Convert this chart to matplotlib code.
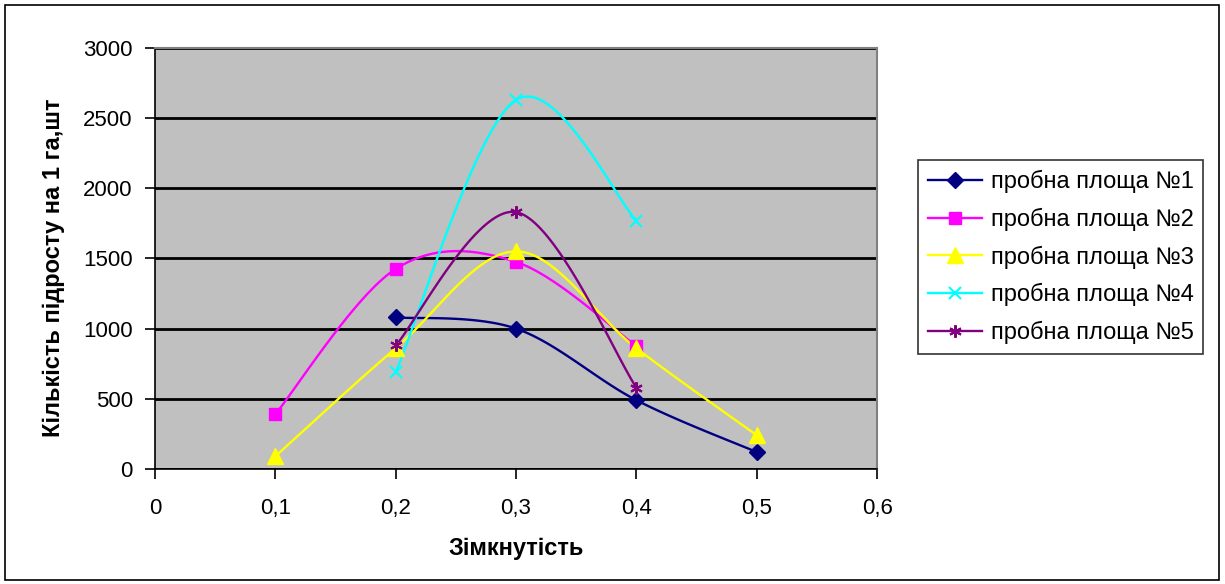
import numpy as np
import matplotlib
matplotlib.use("Agg")
import matplotlib.pyplot as plt
from matplotlib.patches import Rectangle
from matplotlib.ticker import FuncFormatter

plt.rcParams['font.family'] = ['Liberation Sans', 'DejaVu Sans']

series_names = ["пробна площа №1", "пробна площа №2", "пробна площа №3",
                "пробна площа №4", "пробна площа №5"]
x1 = [0.2, 0.3, 0.4, 0.5]
y1 = [1080, 1000, 490, 120]
x2 = [0.1, 0.2, 0.3, 0.4]
y2 = [390, 1425, 1475, 875]
x3 = [0.1, 0.2, 0.3, 0.4, 0.5]
y3 = [90, 860, 1550, 860, 240]
x4 = [0.2, 0.3, 0.4]
y4 = [690, 2630, 1770]
x5 = [0.2, 0.3, 0.4]
y5 = [880, 1830, 580]

colors = ["#000080", "#FF00FF", "#FFFF00", "#00FFFF", "#800080"]
markers = ["D", "s", "^", "x", (6, 2, 0)]
msizes = [8, 9, 11, 8, 9]

x_label = "Зімкнутість"
y_label = "Кількість підросту на 1 га,шт"


def excel_smooth(xs, ys, n=40):
    xs = np.asarray(xs, float)
    ys = np.asarray(ys, float)
    P = np.column_stack([xs, ys])
    m = len(P)
    out = [P[0]]
    for i in range(m - 1):
        p0 = P[i - 1] if i > 0 else P[i]
        p1 = P[i]
        p2 = P[i + 1]
        p3 = P[i + 2] if i + 2 < m else P[i + 1]
        c1 = p1 + (p2 - p0) / 6.0
        c2 = p2 - (p3 - p1) / 6.0
        t = np.linspace(0, 1, n)[1:, None]
        seg = ((1 - t) ** 3) * p1 + 3 * ((1 - t) ** 2) * t * c1 + 3 * (1 - t) * t ** 2 * c2 + t ** 3 * p2
        out.extend(seg)
    out = np.array(out)
    return out[:, 0], out[:, 1]


fig = plt.figure(figsize=(12.25, 5.84), dpi=100)
fig.patches.append(Rectangle((0.004, 0.007), 0.991, 0.985, transform=fig.transFigure,
                             fill=False, edgecolor="black", linewidth=1.2))
ax = fig.add_axes([0.1265, 0.197, 0.5895, 0.721])
ax.set_facecolor("#C0C0C0")

data = [(x1, y1), (x2, y2), (x3, y3), (x4, y4), (x5, y5)]
handles = []
for (xs, ys), c, mk, ms, name in zip(data, colors, markers, msizes, series_names):
    sx, sy = excel_smooth(xs, ys)
    ax.plot(sx, sy, color=c, linewidth=1.7, zorder=3)
    mew = 1.5 if mk in ("x",) or isinstance(mk, tuple) else 1
    ax.plot(xs, ys, linestyle="none", marker=mk, markersize=ms, color=c,
            markeredgecolor=c, markeredgewidth=mew, zorder=4)
    h, = ax.plot([], [], color=c, linewidth=1.7, marker=mk, markersize=ms,
                 markeredgecolor=c, markeredgewidth=mew, label=name)
    handles.append(h)

ax.set_xlim(0, 0.6)
ax.set_ylim(0, 3000)
ax.set_xticks(np.arange(0, 0.61, 0.1))
ax.set_yticks(np.arange(0, 3001, 500))
ax.xaxis.set_major_formatter(FuncFormatter(lambda v, p: "0" if abs(v) < 1e-9 else f"{v:.1f}".replace(".", ",")))
ax.yaxis.grid(True, color="black", linewidth=2)
ax.set_axisbelow(True)
for s in ["top", "right"]:
    ax.spines[s].set_color("#808080")
    ax.spines[s].set_linewidth(1.5)
for s in ["left", "bottom"]:
    ax.spines[s].set_color("black")
    ax.spines[s].set_linewidth(1.2)
ax.tick_params(axis="both", direction="out", length=7, width=1.2, labelsize=16)
ax.tick_params(axis="x", pad=14)
ax.tick_params(axis="y", pad=9)
ax.set_xlabel(x_label, fontsize=17, fontweight="bold", va="center")
ax.set_ylabel(y_label, fontsize=17, fontweight="bold", va="center")
ax.xaxis.set_label_coords(0.5, -0.19)
ax.yaxis.set_label_coords(-0.14, 0.479)

leg = fig.legend(handles=handles, loc="upper left", bbox_to_anchor=(0.7494, 0.726),
                 fontsize=17, frameon=True, fancybox=False, edgecolor="black",
                 handlelength=2.3, labelspacing=0.62, borderpad=0.42, handletextpad=0.35,
                 borderaxespad=0)
leg.get_frame().set_linewidth(1.2)

fig.savefig("out.png", dpi=100)
